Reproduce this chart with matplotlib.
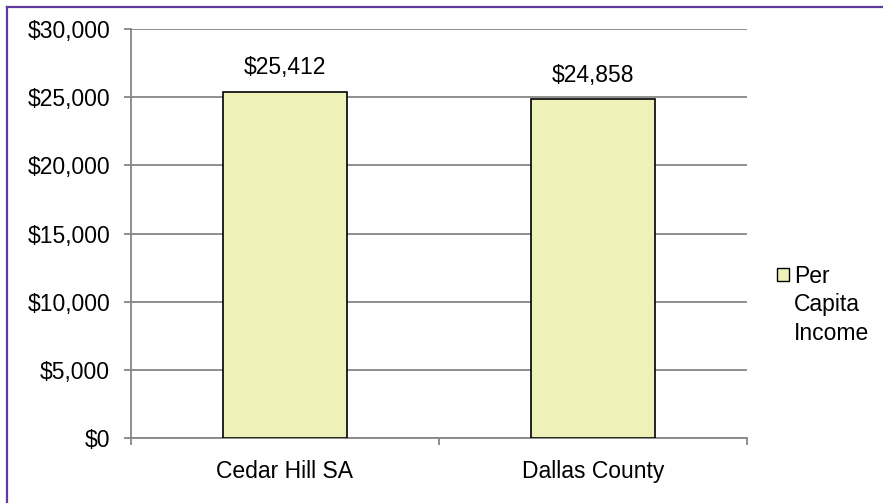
import matplotlib.pyplot as plt
import matplotlib.patches as mpatches
from matplotlib.lines import Line2D
import numpy as np

plt.rcParams['font.family'] = ['Liberation Sans', 'DejaVu Sans']

categorias = ["Cedar Hill SA", "Dallas County"]
ingreso = [25412, 24858]
etiqueta_serie = "Per\nCapita\nIncome"
ticks_y = [0, 5000, 10000, 15000, 20000, 25000, 30000]

COLOR_BARRA = "#EEF2B8"
GRIS = "#868686"
MORADO = "#60399A"
FS = 16.5

fig = plt.figure(figsize=(8.83, 5.03), dpi=100)
ax = fig.add_axes([131 / 883, 1 - 438 / 503, (747 - 131) / 883, (438 - 29) / 503])

x = np.arange(len(categorias))
barras = ax.bar(x, ingreso, width=0.4, color=COLOR_BARRA, edgecolor="black", linewidth=1.2, zorder=3)

for xi, v in zip(x, ingreso):
    ax.annotate(f"${v:,.0f}", (xi, v), xytext=(0, 9), textcoords="offset points",
                ha="center", va="bottom", fontsize=FS)

ax.set_xlim(-0.5, len(categorias) - 0.5)
ax.set_ylim(0, 30000)
ax.set_yticks(ticks_y)
ax.set_yticklabels([f"${t:,.0f}" for t in ticks_y])
ax.set_xticks(x)
ax.set_xticklabels(categorias)
ax.set_xticks(np.arange(len(categorias) + 1) - 0.5, minor=True)

ax.yaxis.grid(True, color=GRIS, linewidth=1.3, zorder=0)
ax.set_axisbelow(True)
for s in ["top", "right"]:
    ax.spines[s].set_visible(False)
for s in ["left", "bottom"]:
    ax.spines[s].set_color(GRIS)
    ax.spines[s].set_linewidth(1.3)

ax.tick_params(axis="y", length=5, width=1.3, color=GRIS, pad=10, labelsize=FS)
ax.tick_params(axis="x", which="major", length=0, pad=16, labelsize=FS)
ax.tick_params(axis="x", which="minor", length=5, width=1.3, color=GRIS)

# leyenda dibujada a mano: cuadro alineado con la primera línea
fig.patches.append(mpatches.Rectangle((777 / 883, 1 - 281 / 503), 12 / 883, 13 / 503,
                                      transform=fig.transFigure, facecolor=COLOR_BARRA,
                                      edgecolor="black", linewidth=1))
fig.text(794 / 883, 1 - 265 / 503, etiqueta_serie, ha="left", va="top",
         fontsize=FS, linespacing=1.3)

# borde del gráfico
fig.add_artist(Line2D([6.5 / 883, 1], [1 - 6.5 / 503, 1 - 6.5 / 503], transform=fig.transFigure,
                      color=MORADO, linewidth=1.6))
fig.add_artist(Line2D([6.5 / 883, 6.5 / 883], [0, 1 - 6.5 / 503], transform=fig.transFigure,
                      color=MORADO, linewidth=1.6))

plt.savefig("out.png", dpi=100)
